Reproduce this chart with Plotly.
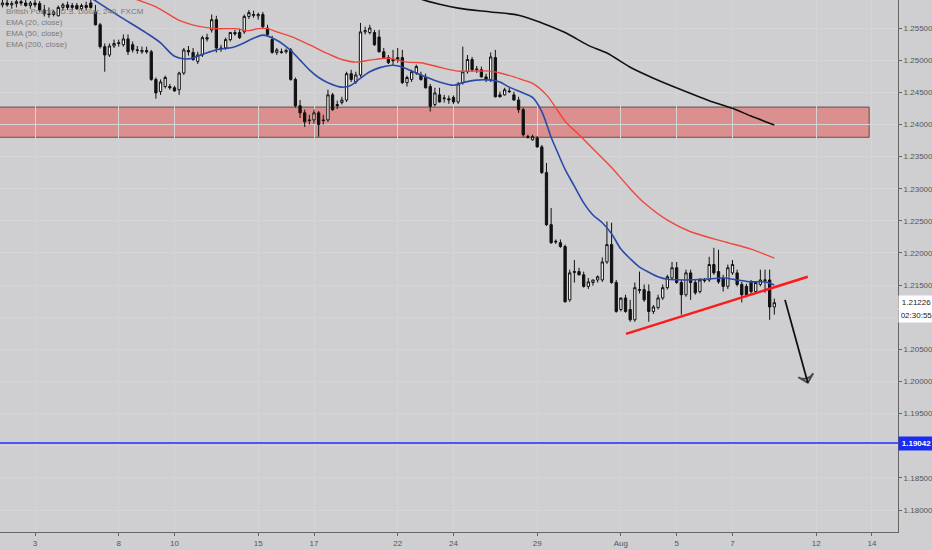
import plotly.graph_objects as go

# GBP/USD 4h candles (FXCM), from Jul 2 20:00 to Aug 8 16:00, one row per trading day
opens = [
    1.2586, 1.2589, 1.2586, 1.2588, 1.2591, 1.2589, 1.2585,
    1.2589, 1.2588, 1.2578, 1.2572, 1.2571, 1.2569,
    1.2582, 1.2586, 1.2582, 1.2585, 1.2580, 1.2585,
    1.2589, 1.2575, 1.2555, 1.2521, 1.2508, 1.2522,
    1.2526, 1.2524, 1.2533, 1.2524, 1.2516, 1.2513,
    1.2515, 1.2513, 1.2470, 1.2451, 1.2459, 1.2459,
    1.2457, 1.2454, 1.2480, 1.2515, 1.2512, 1.2498,
    1.2508, 1.2535, 1.2547, 1.2563, 1.2519, 1.2519,
    1.2532, 1.2543, 1.2543, 1.2544, 1.2568, 1.2571,
    1.2569, 1.2571, 1.2550, 1.2532, 1.2512, 1.2513,
    1.2513, 1.2516, 1.2470, 1.2429, 1.2418, 1.2407,
    1.2407, 1.2418, 1.2407, 1.2407, 1.2446, 1.2431,
    1.2434, 1.2438, 1.2479, 1.2466, 1.2477, 1.2544,
    1.2543, 1.2543, 1.2536, 1.2513, 1.2504, 1.2501,
    1.2501, 1.2504, 1.2465, 1.2470, 1.2480, 1.2477,
    1.2473, 1.2459, 1.2431, 1.2446, 1.2440, 1.2440,
    1.2442, 1.2435, 1.2465, 1.2482, 1.2501, 1.2485,
    1.2485, 1.2474, 1.2470, 1.2504, 1.2446, 1.2446,
    1.2452, 1.2446, 1.2438, 1.2423, 1.2381, 1.2376,
    1.2379, 1.2365, 1.2325, 1.2244, 1.2217, 1.2216,
    1.2210, 1.2127, 1.2171, 1.2171, 1.2166, 1.2148,
    1.2154, 1.2158, 1.2158, 1.2186, 1.2213, 1.2154,
    1.2112, 1.2130, 1.2112, 1.2096, 1.2143, 1.2143,
    1.2140, 1.2109, 1.2115, 1.2130, 1.2146, 1.2161,
    1.2177, 1.2154, 1.2135, 1.2169, 1.2154, 1.2140,
    1.2158, 1.2158, 1.2182, 1.2171, 1.2161, 1.2148,
    1.2169, 1.2169, 1.2151, 1.2148, 1.2155, 1.2140,
    1.2151, 1.2157, 1.2158, 1.2116,
]
highs = [
    1.2594, 1.2594, 1.2592, 1.2594, 1.2597, 1.2594, 1.2592,
    1.2594, 1.2592, 1.2586, 1.2582, 1.2578, 1.2585,
    1.2589, 1.2591, 1.2589, 1.2589, 1.2588, 1.2591,
    1.2594, 1.2586, 1.2558, 1.2526, 1.2526, 1.2532,
    1.2532, 1.2540, 1.2540, 1.2529, 1.2522, 1.2521,
    1.2521, 1.2516, 1.2473, 1.2470, 1.2476, 1.2463,
    1.2460, 1.2482, 1.2519, 1.2522, 1.2519, 1.2513,
    1.2538, 1.2541, 1.2571, 1.2569, 1.2524, 1.2535,
    1.2544, 1.2547, 1.2549, 1.2571, 1.2578, 1.2577,
    1.2574, 1.2575, 1.2555, 1.2538, 1.2519, 1.2518,
    1.2518, 1.2519, 1.2473, 1.2438, 1.2423, 1.2415,
    1.2423, 1.2421, 1.2415, 1.2454, 1.2449, 1.2437,
    1.2443, 1.2482, 1.2485, 1.2482, 1.2558, 1.2552,
    1.2555, 1.2547, 1.2547, 1.2519, 1.2508, 1.2516,
    1.2519, 1.2516, 1.2476, 1.2485, 1.2493, 1.2482,
    1.2479, 1.2463, 1.2457, 1.2457, 1.2446, 1.2445,
    1.2445, 1.2466, 1.2521, 1.2508, 1.2505, 1.2491,
    1.2490, 1.2479, 1.2512, 1.2516, 1.2451, 1.2457,
    1.2457, 1.2451, 1.2443, 1.2426, 1.2384, 1.2384,
    1.2382, 1.2368, 1.2340, 1.2270, 1.2221, 1.2221,
    1.2213, 1.2174, 1.2189, 1.2177, 1.2171, 1.2161,
    1.2158, 1.2165, 1.2193, 1.2249, 1.2247, 1.2158,
    1.2127, 1.2135, 1.2127, 1.2154, 1.2171, 1.2151,
    1.2151, 1.2119, 1.2135, 1.2151, 1.2166, 1.2186,
    1.2186, 1.2158, 1.2174, 1.2174, 1.2158, 1.2161,
    1.2161, 1.2194, 1.2208, 1.2205, 1.2166, 1.2182,
    1.2189, 1.2174, 1.2155, 1.2152, 1.2158, 1.2154,
    1.2174, 1.2174, 1.2174, 1.2129,
]
lows = [
    1.2582, 1.2583, 1.2580, 1.2582, 1.2585, 1.2583, 1.2580,
    1.2582, 1.2575, 1.2568, 1.2566, 1.2568, 1.2568,
    1.2577, 1.2578, 1.2577, 1.2578, 1.2577, 1.2578,
    1.2580, 1.2554, 1.2518, 1.2482, 1.2505, 1.2519,
    1.2521, 1.2521, 1.2508, 1.2512, 1.2510, 1.2510,
    1.2510, 1.2468, 1.2440, 1.2446, 1.2456, 1.2454,
    1.2451, 1.2446, 1.2477, 1.2507, 1.2499, 1.2494,
    1.2505, 1.2529, 1.2543, 1.2512, 1.2513, 1.2516,
    1.2529, 1.2538, 1.2533, 1.2541, 1.2564, 1.2566,
    1.2563, 1.2550, 1.2538, 1.2510, 1.2508, 1.2510,
    1.2510, 1.2468, 1.2426, 1.2410, 1.2396, 1.2400,
    1.2401, 1.2381, 1.2400, 1.2404, 1.2421, 1.2424,
    1.2431, 1.2435, 1.2466, 1.2463, 1.2474, 1.2540,
    1.2540, 1.2522, 1.2512, 1.2502, 1.2494, 1.2491,
    1.2496, 1.2463, 1.2459, 1.2466, 1.2477, 1.2468,
    1.2456, 1.2420, 1.2428, 1.2434, 1.2434, 1.2432,
    1.2432, 1.2432, 1.2462, 1.2479, 1.2482, 1.2480,
    1.2473, 1.2466, 1.2466, 1.2442, 1.2442, 1.2445,
    1.2449, 1.2437, 1.2418, 1.2381, 1.2378, 1.2375,
    1.2364, 1.2323, 1.2242, 1.2214, 1.2214, 1.2208,
    1.2123, 1.2124, 1.2154, 1.2165, 1.2146, 1.2144,
    1.2149, 1.2154, 1.2155, 1.2183, 1.2152, 1.2107,
    1.2109, 1.2107, 1.2093, 1.2093, 1.2137, 1.2124,
    1.2093, 1.2105, 1.2112, 1.2127, 1.2143, 1.2158,
    1.2152, 1.2104, 1.2132, 1.2127, 1.2135, 1.2137,
    1.2154, 1.2155, 1.2166, 1.2152, 1.2140, 1.2144,
    1.2166, 1.2148, 1.2123, 1.2132, 1.2135, 1.2137,
    1.2148, 1.2138, 1.2096, 1.2104,
]
closes = [
    1.2589, 1.2586, 1.2588, 1.2591, 1.2589, 1.2585, 1.2589,
    1.2586, 1.2578, 1.2572, 1.2571, 1.2575, 1.2582,
    1.2586, 1.2582, 1.2585, 1.2580, 1.2585, 1.2582,
    1.2582, 1.2555, 1.2521, 1.2508, 1.2522, 1.2526,
    1.2527, 1.2533, 1.2513, 1.2516, 1.2515, 1.2515,
    1.2513, 1.2470, 1.2449, 1.2466, 1.2473, 1.2457,
    1.2452, 1.2480, 1.2516, 1.2513, 1.2501, 1.2508,
    1.2535, 1.2533, 1.2563, 1.2519, 1.2518, 1.2532,
    1.2543, 1.2541, 1.2535, 1.2568, 1.2574, 1.2570,
    1.2571, 1.2552, 1.2540, 1.2512, 1.2516, 1.2512,
    1.2515, 1.2470, 1.2429, 1.2418, 1.2404, 1.2406,
    1.2418, 1.2400, 1.2406, 1.2446, 1.2423, 1.2429,
    1.2438, 1.2479, 1.2470, 1.2477, 1.2544, 1.2546,
    1.2550, 1.2524, 1.2513, 1.2504, 1.2496, 1.2499,
    1.2504, 1.2465, 1.2473, 1.2482, 1.2490, 1.2470,
    1.2457, 1.2428, 1.2449, 1.2435, 1.2441, 1.2438,
    1.2435, 1.2463, 1.2482, 1.2501, 1.2485, 1.2486,
    1.2474, 1.2470, 1.2505, 1.2443, 1.2443, 1.2454,
    1.2451, 1.2438, 1.2423, 1.2384, 1.2380, 1.2381,
    1.2365, 1.2325, 1.2244, 1.2216, 1.2218, 1.2210,
    1.2124, 1.2169, 1.2170, 1.2166, 1.2148, 1.2155,
    1.2158, 1.2163, 1.2186, 1.2213, 1.2154, 1.2109,
    1.2130, 1.2109, 1.2096, 1.2146, 1.2142, 1.2127,
    1.2109, 1.2116, 1.2130, 1.2146, 1.2163, 1.2177,
    1.2154, 1.2135, 1.2169, 1.2154, 1.2138, 1.2158,
    1.2157, 1.2182, 1.2169, 1.2155, 1.2148, 1.2177,
    1.2182, 1.2151, 1.2135, 1.2135, 1.2140, 1.2154,
    1.2158, 1.2158, 1.2116, 1.21226,
]
first_bar = -7  # bar 0 = first 4h bar of Jul 3

# EMA readings (bar number, value)
ema20_bars = [12, 18, 24, 27, 30, 33, 36, 39, 43, 47, 49, 52, 55, 57, 59, 61, 63, 66, 68, 70,
              72, 74, 77, 79, 83, 87, 90, 92, 95, 98, 100, 102, 105, 107, 109, 111, 112, 114,
              116, 118, 120, 122, 124, 126, 128, 130, 132, 134, 136, 140, 144, 148, 151, 154,
              157, 159]
ema20 = [1.2597, 1.2569, 1.2542, 1.2527, 1.2506, 1.2502, 1.2509, 1.2516, 1.2521, 1.2534,
         1.2539, 1.2531, 1.2515, 1.2500, 1.2485, 1.2473, 1.2465, 1.2458, 1.2461, 1.2472,
         1.2482, 1.2488, 1.2492, 1.2489, 1.2477, 1.2466, 1.2461, 1.2465, 1.2469, 1.2469,
         1.2466, 1.2458, 1.2449, 1.2442, 1.2420, 1.2380, 1.2363, 1.2330, 1.2304, 1.2278,
         1.2259, 1.2247, 1.2230, 1.2206, 1.2191, 1.2178, 1.2170, 1.2163, 1.2159, 1.2158,
         1.2159, 1.2161, 1.2158, 1.2155, 1.2155, 1.2150]

ema50_bars = [20, 22, 26, 31, 35, 39, 43, 46, 48, 50, 52, 55, 59, 63, 66, 69, 72, 76, 80, 83,
              87, 91, 94, 98, 100, 103, 105, 107, 110, 112, 114, 117, 120, 124, 128, 131, 136,
              141, 148, 154, 159]
ema50 = [1.2600, 1.2594, 1.2583, 1.2562, 1.2553, 1.2549, 1.2549, 1.2546, 1.2549, 1.2549,
         1.2544, 1.2537, 1.2524, 1.2510, 1.2501, 1.2497, 1.2500, 1.2503, 1.2497, 1.2496,
         1.2489, 1.2483, 1.2483, 1.2483, 1.2480, 1.2474, 1.2469, 1.2464, 1.2446, 1.2426,
         1.2405, 1.2384, 1.2362, 1.2333, 1.2300, 1.2278, 1.2251, 1.2233, 1.2218, 1.2206,
         1.2192]

ema200_bars = [81, 83, 87, 91, 98, 104, 109, 114, 119, 123, 128, 133, 139, 145, 150, 154, 159]
ema200 = [1.2602, 1.2595, 1.2587, 1.2581, 1.2575, 1.2570, 1.2558, 1.2543, 1.2523, 1.2511,
          1.2489, 1.2472, 1.2454, 1.2437, 1.2425, 1.2413, 1.2399]

# drawings
zone_low, zone_high = 1.2380, 1.2427
zone_bars = [-8, 179.4]
trend_bars = [127.1, 166.2]
trend_prices = [1.2074, 1.2163]
arrow_bars = [161.3, 166.2]
arrow_prices = [1.2127, 1.1998]
level = 1.19042
last_price = 1.21226
countdown = "02:30:55"

tick_bars = [0, 18, 30, 48, 60, 78, 90, 108, 126, 138, 150, 168, 180]
tick_labels = ["3", "8", "10", "15", "17", "22", "24", "29", "Aug", "5", "7", "12", "14"]

# price scale; 1.19000 and 1.21000 sit under the price tags
price_ticks = [1.180, 1.185, 1.190, 1.195, 1.200, 1.205, 1.210, 1.215,
               1.220, 1.225, 1.230, 1.235, 1.240, 1.245, 1.250, 1.255]
price_labels = ["1.18000", "1.18500", "", "1.19500", "1.20000", "1.20500", "", "1.21500",
                "1.22000", "1.22500", "1.23000", "1.23500", "1.24000", "1.24500", "1.25000",
                "1.25500"]

bars = list(range(first_bar, first_bar + len(closes)))

fig = go.Figure()

fig.add_trace(go.Candlestick(
    x=bars, open=opens, high=highs, low=lows, close=closes,
    increasing=dict(line=dict(color="#111111", width=1), fillcolor="#ffffff"),
    decreasing=dict(line=dict(color="#111111", width=1), fillcolor="#111111"),
    whiskerwidth=0, showlegend=False, hoverinfo="skip",
))

fig.add_trace(go.Scatter(x=ema20_bars, y=ema20, mode="lines", showlegend=False,
                         line=dict(color="#2a4aa8", width=1.6, shape="spline", smoothing=0.8)))
fig.add_trace(go.Scatter(x=ema50_bars, y=ema50, mode="lines", showlegend=False,
                         line=dict(color="#f0463c", width=1.4, shape="spline", smoothing=0.8)))
fig.add_trace(go.Scatter(x=ema200_bars, y=ema200, mode="lines", showlegend=False,
                         line=dict(color="#111111", width=1.6, shape="spline", smoothing=0.8)))

fig.add_trace(go.Scatter(x=trend_bars, y=trend_prices, mode="lines", showlegend=False,
                         line=dict(color="#ff1a1a", width=2.5)))
fig.add_trace(go.Scatter(
    x=arrow_bars, y=arrow_prices, mode="lines+markers", showlegend=False,
    line=dict(color="#111111", width=1.8),
    marker=dict(symbol=["circle", "arrow-wide-open"], size=[1, 11], angleref="previous",
                color="#111111", line=dict(color="#111111", width=1.8)),
))

fig.add_shape(type="rect", xref="x", yref="y", x0=zone_bars[0], x1=zone_bars[1],
              y0=zone_low, y1=zone_high, fillcolor="#db8f8e",
              line=dict(color="#6e4a4a", width=1), layer="below")
fig.add_shape(type="line", xref="paper", yref="y", x0=0, x1=1, y0=level, y1=level,
              line=dict(color="#2030ff", width=1.5))

legend_lines = ["British Pound / U.S. Dollar, 240, FXCM", "EMA (20, close)",
                "EMA (50, close)", "EMA (200, close)"]
for k, txt in enumerate(legend_lines):
    fig.add_annotation(xref="paper", yref="paper", x=0.005, y=1, xanchor="left", yanchor="top",
                       yshift=-5 - 11 * k, text=txt, showarrow=False,
                       font=dict(family="Liberation Sans", size=8, color="#7a7a7a"))

label_font = dict(family="Liberation Sans", size=8, color="#222222")
fig.add_annotation(xref="paper", yref="y", x=1, y=level, xanchor="left", yanchor="middle",
                   text="<b>%.5f</b>" % level, showarrow=False, bgcolor="#1a2cf0",
                   font=dict(family="Liberation Sans", size=8, color="#ffffff"),
                   borderpad=2, width=31)
fig.add_annotation(xref="paper", yref="y", x=1, y=last_price, xanchor="left", yanchor="middle",
                   text="%.5f" % last_price, showarrow=False, bgcolor="#ffffff",
                   font=label_font, borderpad=2, width=31)
fig.add_annotation(xref="paper", yref="y", x=1, y=last_price, xanchor="left", yanchor="middle",
                   yshift=-13, text=countdown, showarrow=False, bgcolor="#ffffff",
                   font=label_font, borderpad=2, width=31)

fig.update_layout(
    width=932, height=550,
    margin=dict(l=0, r=34, t=0, b=18),
    plot_bgcolor="#cfcfd1", paper_bgcolor="#cfcfd1",
    showlegend=False,
    xaxis=dict(
        range=[-7.53, 185.6], rangeslider=dict(visible=False),
        tickvals=tick_bars, ticktext=tick_labels,
        showgrid=True, gridcolor="#d5d5d7", gridwidth=1, zeroline=False,
        showline=True, linecolor="#666666", linewidth=1,
        ticks="outside", ticklen=3, tickcolor="#666666",
        tickfont=dict(family="Liberation Sans", size=8, color="#555555"),
    ),
    yaxis=dict(
        side="right", range=[1.17658, 1.25936],
        tickvals=price_ticks, ticktext=price_labels,
        showgrid=True, gridcolor="#d5d5d7", gridwidth=1, zeroline=False,
        showline=True, linecolor="#666666", linewidth=1,
        ticks="outside", ticklen=3, tickcolor="#666666", automargin=False,
        tickfont=dict(family="Liberation Sans", size=8, color="#555555"),
    ),
)

fig.write_html("out.html", config={"displayModeBar": False},
               post_script="document.body.style.margin='0';")
